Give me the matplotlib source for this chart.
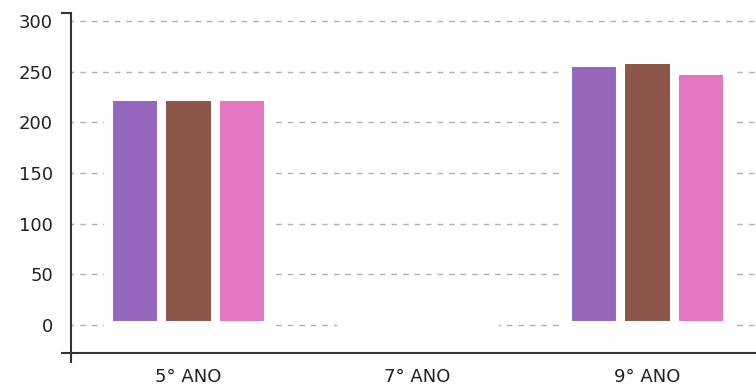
import numpy as np
import matplotlib.pyplot as plt

# values (three series per school year)
categories = ['5° ANO', '7° ANO', '9° ANO']
serie_a = [226, 0, 260]
serie_b = [226, 0, 263]
serie_c = [226, 0, 252]
y_ticks = [0, 50, 100, 150, 200, 250, 300]

colors = ['#9467bd', '#8c564b', '#e377c2']
plt.rcParams['font.family'] = ['DejaVu Sans']

fig = plt.figure(figsize=(7.56, 3.86), dpi=100)
ax = fig.add_axes([0.0939, 0.0855, 0.9061, 0.8808])

x = np.arange(len(categories))
width = 0.233
for i, (vals, c) in enumerate(zip([serie_a, serie_b, serie_c], colors)):
    ax.bar(x + (i - 1) * width, vals, width=width, color=c,
           edgecolor='white', linewidth=6.5, zorder=3)

ax.set_xlim(-0.51, 2.475)
ax.set_ylim(-27.6, 307.9)

ax.set_yticks(y_ticks)
ax.set_xticks(x)
ax.set_xticklabels(categories)
ax.set_yticks([-27.6, 307.9], minor=True)
ax.set_xticks([-0.51], minor=True)

# dashed grid, hidden behind the white borders of the bars
ax.yaxis.grid(True, which='major', linestyle=(2, (4, 4.3)), color='#b0b0b0',
              linewidth=1.0, zorder=1)
ax.set_axisbelow(True)

for side in ['top', 'right']:
    ax.spines[side].set_visible(False)
for side in ['left', 'bottom']:
    ax.spines[side].set_color('#333333')
    ax.spines[side].set_linewidth(1.5)

ax.tick_params(which='major', length=0, labelsize=13, labelcolor='#222222')
ax.tick_params(axis='y', which='major', pad=13)
ax.tick_params(axis='x', which='major', pad=11)
ax.tick_params(which='minor', length=7.5, width=1.5, color='#333333')

fig.savefig('out.png', dpi=100)
